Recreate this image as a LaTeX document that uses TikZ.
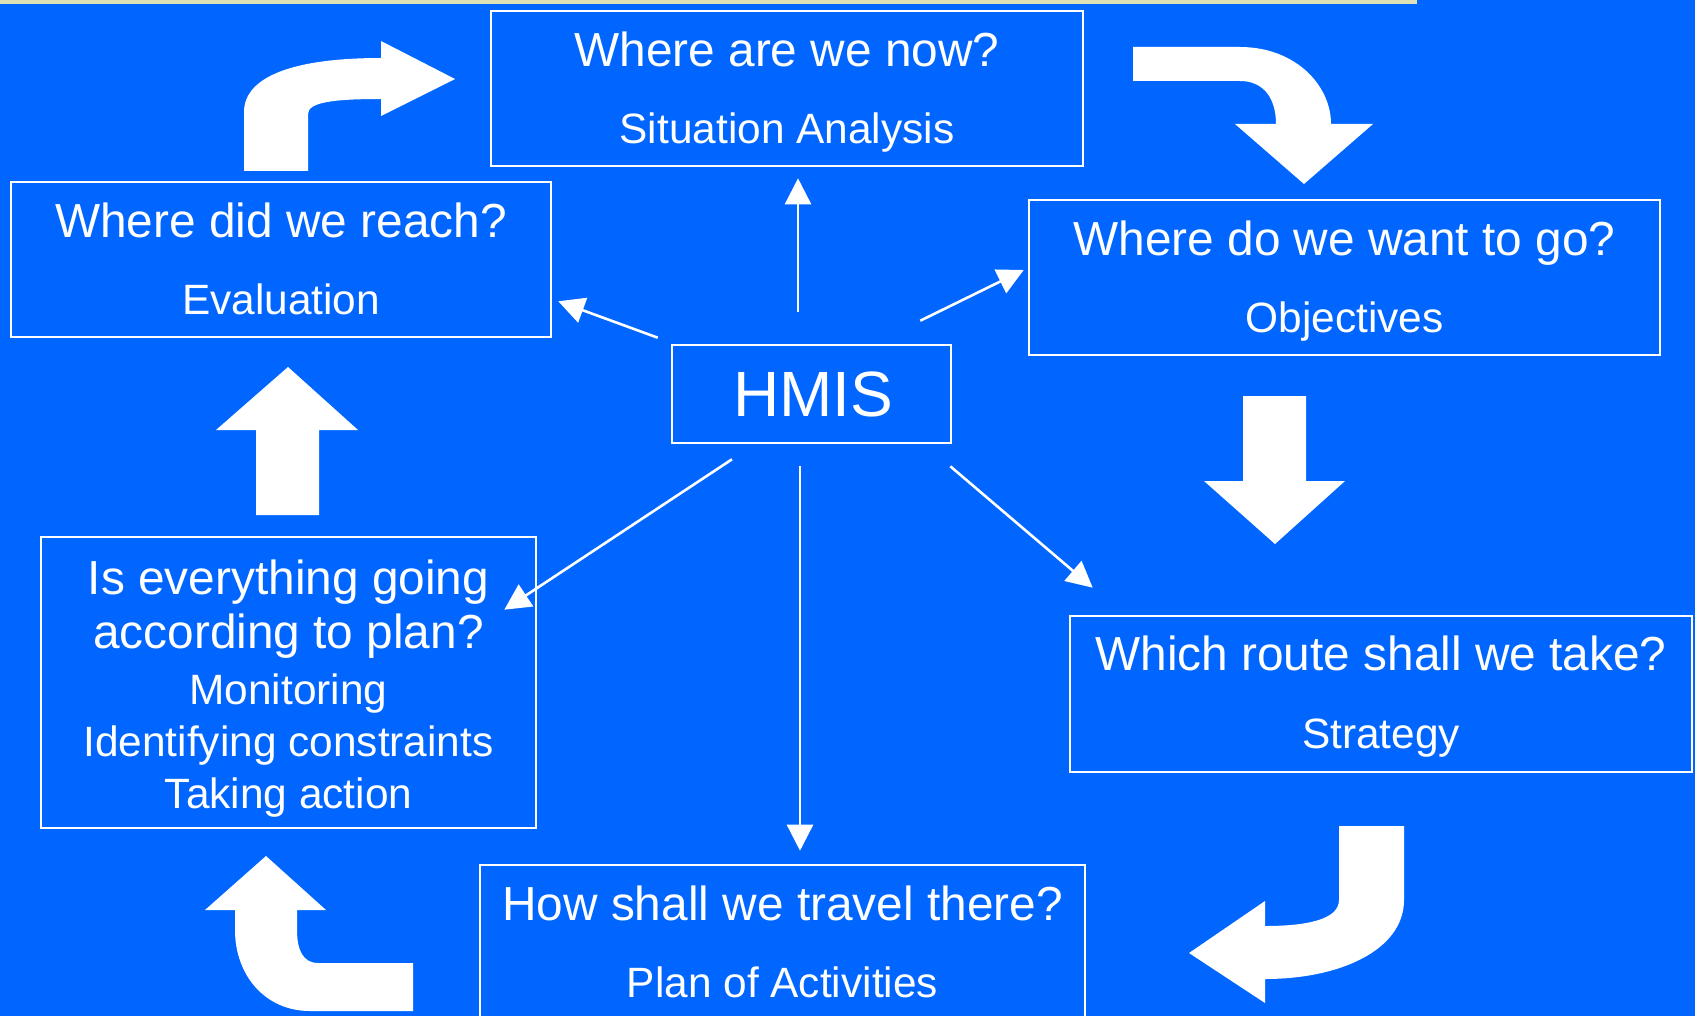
\documentclass[tikz,border=0pt]{standalone}
\usepackage{fontspec}
\setmainfont{Liberation Sans}
\usetikzlibrary{arrows.meta}
\definecolor{bgblue}{RGB}{0,102,255}
\definecolor{strip}{RGB}{222,224,182}
\begin{document}
\begin{tikzpicture}[x=0.5pt,y=-0.5pt]
\tikzstyle{box}=[draw=white, line width=1.3pt, inner sep=0pt]
\tikzstyle{ttl}=[text=white, inner sep=0pt, anchor=base, font=\fontsize{23.9}{28}\selectfont]
\tikzstyle{sub}=[text=white, inner sep=0pt, anchor=base, font=\fontsize{21.2}{25}\selectfont]
\tikzstyle{link}=[draw=white, line width=1.3pt, -{Triangle[length=13pt,width=13pt]}]
\tikzstyle{bigarrow}=[fill=white]
\fill [bgblue] (0,0) rectangle (1695,1016);
\useasboundingbox (0,0) rectangle (1695,1016);
\fill [strip] (0,0) rectangle (1417,4);
\node [box, minimum width=296pt, minimum height=77.5pt] (now) at (787,88.5) {};
\node [ttl] (nowT) at ([shift={(0,57)}]now.north) {Where are we now?};
\node [sub] (nowS) at ([shift={(0,134)}]now.north) {Situation Analysis};
\node [box, minimum width=270pt, minimum height=77.5pt] (reach) at (281,259.5) {};
\node [ttl] (reachT) at ([shift={(0,57)}]reach.north) {Where did we reach?};
\node [sub] (reachS) at ([shift={(0,134)}]reach.north) {Evaluation};
\node [box, minimum width=315.5pt, minimum height=77.5pt] (want) at (1344.5,277.5) {};
\node [ttl] (wantT) at ([shift={(0,57)}]want.north) {Where do we want to go?};
\node [sub] (wantS) at ([shift={(0,134)}]want.north) {Objectives};
\node [box, minimum width=139.5pt, minimum height=49pt] (hmis) at (811.5,394) {};
\node [text=white, inner sep=0pt, anchor=base, font=\fontsize{32}{36}\selectfont] (hmisT) at (813,416) {HMIS};
\node [box, minimum width=311pt, minimum height=78pt] (route) at (1381,694) {};
\node [ttl] (routeT) at ([shift={(0,56)}]route.north) {Which route shall we take?};
\node [sub] (routeS) at ([shift={(0,134)}]route.north) {Strategy};
\node [box, minimum width=302.5pt, minimum height=82pt] (travel) at (782.5,947) {};
\node [ttl] (travelT) at ([shift={(0,57)}]travel.north) {How shall we travel there?};
\node [sub] (travelS) at ([shift={(0,134)}]travel.north) {Plan of Activities};
\node [box, minimum width=247.5pt, minimum height=145.5pt] (check) at (288.5,682.5) {};
\node [ttl] (checkA) at ([shift={(0,59)}]check.north) {Is everything going};
\node [ttl] (checkB) at ([shift={(0,113)}]check.north) {according to plan?};
\node [sub] (checkC) at ([shift={(0,169)}]check.north) {Monitoring};
\node [sub] (checkD) at ([shift={(0,221)}]check.north) {Identifying constraints};
\node [sub] (checkE) at ([shift={(0,273)}]check.north) {Taking action};
\draw [link] ([shift={(-13.5,-32)}]hmis.north) -- ([shift={(11,11)}]now.south);
\draw [link] ([shift={(-13,-6)}]hmis.north west) -- ([shift={(6,-37)}]reach.south east);
\draw [link] ([shift={(-32,-23)}]hmis.north east) -- ([shift={(-4,-7.5)}]want.west);
\draw [link] ([shift={(-79.5,15)}]hmis.south) -- ([shift={(-33,74)}]check.north east);
\draw [link] ([shift={(-11.5,22)}]hmis.south) -- ([shift={(17.5,-13)}]travel.north);
\draw [link] ([shift={(-2,22)}]hmis.south east) -- ([shift={(24,-27)}]route.north west);
\fill [bigarrow] (244,171) -- (244,112) .. controls (244,78) and (290,58) .. (381,58) -- (381,41) -- (455,79) -- (381,116) -- (381,99) .. controls (335,99) and (308,102) .. (308,114) -- (308,171) -- cycle;
\fill [bigarrow] (1133,47) -- (1240,47) .. controls (1295,47) and (1331,85) .. (1331,124) -- (1373,124) -- (1304,184) -- (1235,124) -- (1276,124) .. controls (1276,100) and (1265,81) .. (1240,81) -- (1133,81) -- cycle;
\fill [bigarrow] (1243,396) -- (1306,396) -- (1306,481) -- (1345,481) -- (1275,544) -- (1204,481) -- (1243,481) -- cycle;
\fill [bigarrow] (1339,826) -- (1404,826) -- (1404,900) .. controls (1404,950) and (1340,979) .. (1265,979) -- (1265,1003) -- (1189,953) -- (1265,901) -- (1265,926) .. controls (1305,926) and (1339,920) .. (1339,900) -- cycle;
\fill [bigarrow] (413,963) -- (318,963) .. controls (303,963) and (297,950) .. (297,930) -- (297,910) -- (326,910) -- (266,856) -- (205,910) -- (235,910) -- (235,930) .. controls (235,975) and (265,1011) .. (310,1011) -- (413,1011) -- cycle;
\fill [bigarrow] (256,515) -- (256,430) -- (216,430) -- (288,367) -- (358,430) -- (319,430) -- (319,515) -- cycle;
\end{tikzpicture}
\end{document}
